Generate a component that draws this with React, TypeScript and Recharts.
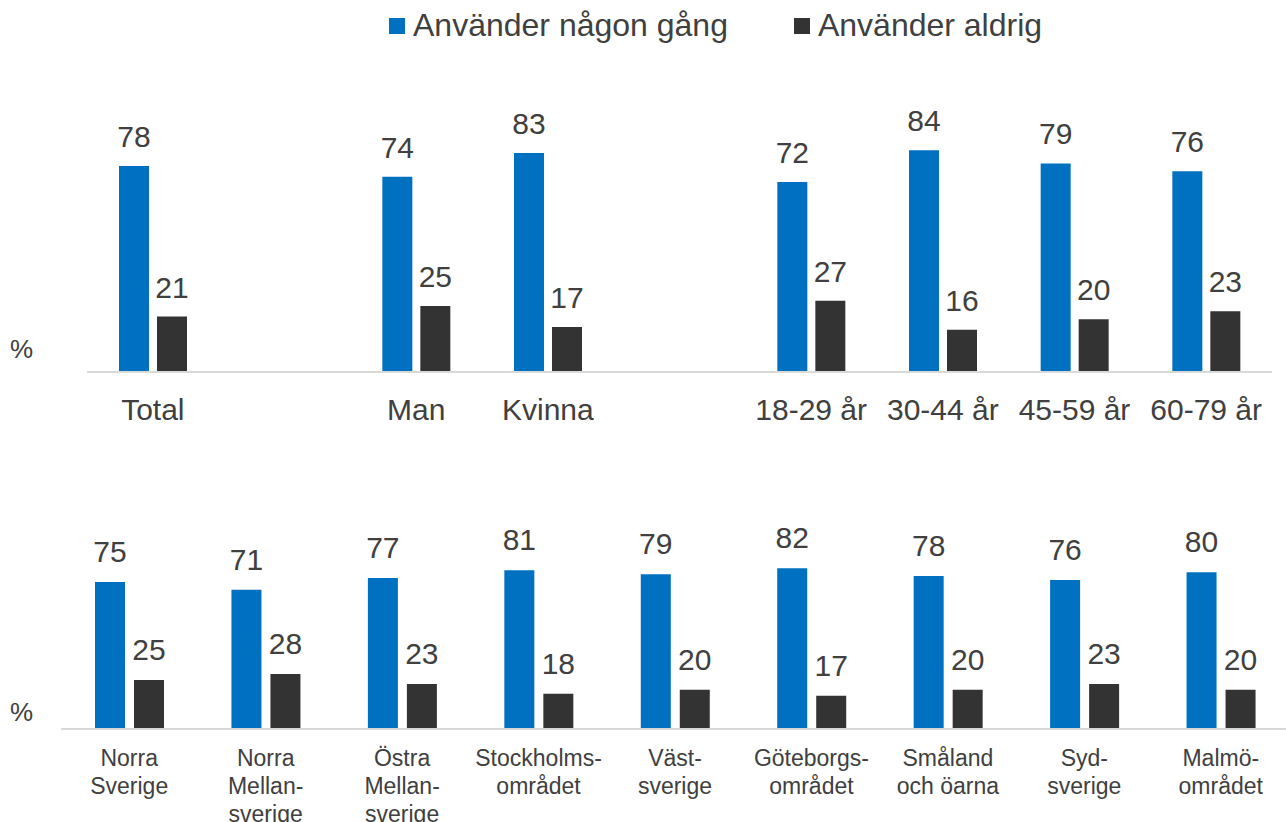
import { BarChart, Bar, XAxis, YAxis, LabelList } from 'recharts';

const BLUE = '#0070C0';
const DARK = '#333333';
const TEXT = '#404040';
const FONT = '"Liberation Sans", Arial, sans-serif';

const seriesNames = ['Använder någon gång', 'Använder aldrig'];

// top panel: empty slots keep the gaps between the groups
const topCategories = ['Total', '', 'Man', 'Kvinna', '', '18-29 år', '30-44 år', '45-59 år', '60-79 år'];
const topUsed = [78, null, 74, 83, null, 72, 84, 79, 76];
const topNever = [21, null, 25, 17, null, 27, 16, 20, 23];

const regionLabels = [
  'Norra\nSverige',
  'Norra\nMellan-\nsverige',
  'Östra\nMellan-\nsverige',
  'Stockholms-\nområdet',
  'Väst-\nsverige',
  'Göteborgs-\nområdet',
  'Småland\noch öarna',
  'Syd-\nsverige',
  'Malmö-\nområdet',
];
const regionUsed = [75, 71, 77, 81, 79, 82, 78, 76, 80];
const regionNever = [25, 28, 23, 18, 20, 17, 20, 23, 20];

const topData = topCategories.map((c, i) => ({ key: `t${i}`, label: c, used: topUsed[i], never: topNever[i] }));
const regionData = regionLabels.map((c, i) => ({ key: `r${i}`, label: c, used: regionUsed[i], never: regionNever[i] }));

const fmt = (v: any) => (v === null || v === undefined ? '' : String(v));

function TopTick({ x, y, index }: any) {
  return (
    <text x={x} y={y} dy={40} textAnchor="middle" fill={TEXT} fontSize={30} fontFamily={FONT}>
      {topCategories[index] ?? ''}
    </text>
  );
}

function RegionTick({ x, y, index }: any) {
  const lines = (regionLabels[index] || '').split('\n');
  return (
    <text x={x} y={y} textAnchor="middle" fill={TEXT} fontSize={23} fontFamily={FONT}>
      {lines.map((l, i) => (
        <tspan key={i} x={x} dy={i === 0 ? 29 : 28}>
          {l}
        </tspan>
      ))}
    </text>
  );
}

function Legend() {
  return (
    <div
      style={{
        position: 'absolute',
        top: 7,
        left: 389,
        display: 'flex',
        alignItems: 'center',
        fontFamily: FONT,
        fontSize: 32,
        color: TEXT,
        whiteSpace: 'nowrap',
      }}
    >
      <span style={{ width: 16, height: 16, background: BLUE, marginRight: 8, display: 'inline-block' }} />
      <span>{seriesNames[0]}</span>
      <span style={{ width: 16, height: 16, background: DARK, marginLeft: 66, marginRight: 8, display: 'inline-block' }} />
      <span>{seriesNames[1]}</span>
    </div>
  );
}

const pct = (top: number) => (
  <div style={{ position: 'absolute', left: 10, top, fontFamily: FONT, fontSize: 26, color: TEXT }}>%</div>
);

export default function App() {
  return (
    <div style={{ position: 'fixed', left: 0, top: 0, width: 1286, height: 822, background: '#fff', overflow: 'hidden' }}>
      <Legend />
      {pct(334)}
      {pct(697)}
      <div style={{ position: 'absolute', left: 0, top: 0 }}>
        <BarChart
          width={1286}
          height={450}
          data={topData}
          margin={{ top: 108, right: 14, bottom: 18, left: 87 }}
          barSize={30}
          barGap={8}
        >
          <XAxis
            dataKey="key"
            height={60}
            tickLine={false}
            axisLine={{ stroke: '#D9D9D9', strokeWidth: 2 }}
            tick={<TopTick />}
            interval={0}
          />
          <YAxis hide domain={[0, 100]} />
          <Bar dataKey="used" name={seriesNames[0]} fill={BLUE} isAnimationActive={false}>
            <LabelList dataKey="used" position="top" offset={19} formatter={fmt} fill={TEXT} fontSize={30} fontFamily={FONT} />
          </Bar>
          <Bar dataKey="never" name={seriesNames[1]} fill={DARK} isAnimationActive={false}>
            <LabelList dataKey="never" position="top" offset={19} formatter={fmt} fill={TEXT} fontSize={30} fontFamily={FONT} />
          </Bar>
        </BarChart>
      </div>
      <div style={{ position: 'absolute', left: 0, top: 450 }}>
        <BarChart
          width={1289}
          height={372}
          data={regionData}
          margin={{ top: 83, right: 0, bottom: 13, left: 61 }}
          barSize={30}
          barGap={9}
        >
          <XAxis
            dataKey="key"
            height={80}
            tickLine={false}
            axisLine={{ stroke: '#D9D9D9', strokeWidth: 2 }}
            tick={<RegionTick />}
            interval={0}
          />
          <YAxis hide domain={[0, 100]} />
          <Bar dataKey="used" name={seriesNames[0]} fill={BLUE} isAnimationActive={false}>
            <LabelList dataKey="used" position="top" offset={20} formatter={fmt} fill={TEXT} fontSize={30} fontFamily={FONT} />
          </Bar>
          <Bar dataKey="never" name={seriesNames[1]} fill={DARK} isAnimationActive={false}>
            <LabelList dataKey="never" position="top" offset={20} formatter={fmt} fill={TEXT} fontSize={30} fontFamily={FONT} />
          </Bar>
        </BarChart>
      </div>
    </div>
  );
}
